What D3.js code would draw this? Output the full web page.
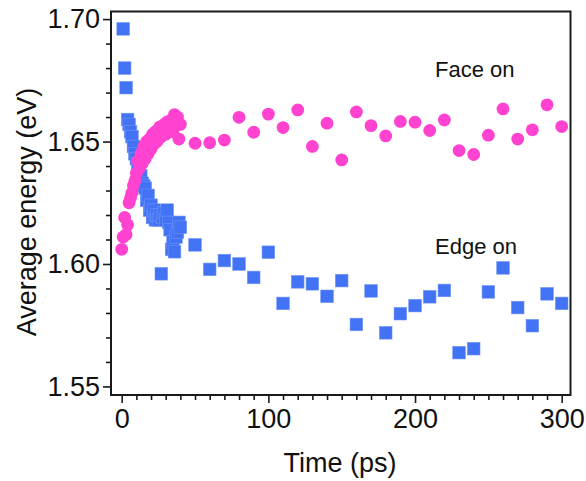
<!DOCTYPE html>
<html><head><meta charset="utf-8">
<script src="https://cdn.jsdelivr.net/npm/d3@7"></script>
<style>body{margin:0;background:#fff}svg{display:block;font-family:Arial,"Liberation Sans",sans-serif}</style>
</head><body><svg id="c" width="586" height="481"></svg>
<script>
// Edge on (blue squares): time (ps) and average energy (eV)
const edgeTime = [1,2,3,4,5,6,7,8,9,10,11,12,13,14,15,16,17,18,19,20,21,22,23,24,25,26,27,28,29,30,31,32,33,34,35,36,37,38,39,40,
  50,60,70,80,90,100,110,120,130,140,150,160,170,180,190,200,210,220,230,240,250,260,270,280,290,300];
const edgeEnergy = [1.696,1.680,1.672,1.659,1.657,1.654,1.652,1.648,1.645,1.643,1.641,1.637,1.636,1.633,1.632,1.631,1.626,1.628,1.622,1.624,
  1.619,1.622,1.618,1.620,1.618,1.620,1.596,1.619,1.621,1.618,1.622,1.617,1.614,1.606,1.609,1.605,1.611,1.613,1.617,1.615,
  1.6078,1.5978,1.6014,1.6000,1.5945,1.6048,1.5839,1.5927,1.5919,1.5868,1.5932,1.5753,1.5890,1.5719,1.5797,1.5830,1.5866,1.5892,1.5638,1.5654,
  1.5886,1.5984,1.5822,1.5748,1.5878,1.5839];
// Face on (magenta circles)
const faceTime = [0,1,2,3,4,5,6,7,8,9,10,11,12,13,14,15,16,17,18,19,20,21,22,23,24,25,26,27,28,29,30,31,32,33,34,35,36,37,38,39,40,
  50,60,70,80,90,100,110,120,130,140,150,160,170,180,190,200,210,220,230,240,250,260,270,280,290,300];
const faceEnergy = [1.606,1.611,1.619,1.612,1.616,1.625,1.627,1.629,1.632,1.634,1.637,1.642,1.639,1.645,1.641,1.648,1.643,1.650,1.645,1.651,
  1.647,1.653,1.649,1.654,1.650,1.655,1.656,1.652,1.654,1.657,1.653,1.658,1.655,1.657,1.659,1.654,1.661,1.658,1.660,1.651,1.657,
  1.6493,1.6495,1.6506,1.6599,1.6538,1.6612,1.6557,1.6629,1.6480,1.6575,1.6425,1.6621,1.6565,1.6523,1.6582,1.6579,1.6545,1.6588,1.6463,1.6447,
  1.6526,1.6633,1.6510,1.6548,1.6650,1.6561];
const xTicks = [0,100,200,300];
const yTicks = [1.55,1.60,1.65,1.70];
const labels = {x:"Time (ps)", y:"Average energy (eV)", face:"Face on", edge:"Edge on"};

const svg = d3.select("#c");
const L=111, R=570.5, T=11.5, B=395;
const x = d3.scaleLinear().domain([-7.3,306]).range([L,R]);
const y = d3.scaleLinear().domain([1.5465,1.7031]).range([B,T]);

const blue="#4173f4", pink="#ff43d0";
const gE = svg.append("g");
edgeTime.forEach((t,i)=>{
  gE.append("rect").attr("x",x(t)-6.3).attr("y",y(edgeEnergy[i])-6.3).attr("width",12.6).attr("height",12.6)
    .attr("fill",blue).attr("stroke","#6f93f7").attr("stroke-width",0.6);
});
const gF = svg.append("g");
faceTime.forEach((t,i)=>{
  gF.append("circle").attr("cx",x(t)).attr("cy",y(faceEnergy[i])).attr("r",6.4).attr("fill",pink);
});

// frame
svg.append("rect").attr("x",L).attr("y",T).attr("width",R-L).attr("height",B-T)
  .attr("fill","none").attr("stroke","#1a1a1a").attr("stroke-width",2);

// axes
const xAxis = d3.axisBottom(x).tickValues(xTicks).tickFormat(d3.format("d")).tickSize(8).tickPadding(6);
svg.append("g").attr("transform",`translate(0,${B})`).call(xAxis);
const xMinor = d3.axisBottom(x).tickValues(d3.range(0,301,10).filter(v=>v%100)).tickFormat("").tickSize(5);
svg.append("g").attr("transform",`translate(0,${B})`).call(xMinor);
const yAxis = d3.axisLeft(y).tickValues(yTicks).tickFormat(d3.format(".2f")).tickSize(8).tickPadding(3);
svg.append("g").attr("transform",`translate(${L},0)`).call(yAxis);
const yMinor = d3.axisLeft(y).tickValues(d3.range(1.55,1.70,0.01).map(v=>+v.toFixed(2)).filter(v=>Math.round(v*100)%5)).tickFormat("").tickSize(5);
svg.append("g").attr("transform",`translate(${L},0)`).call(yMinor);
svg.selectAll(".domain").remove();
svg.selectAll(".tick line").attr("stroke","#1a1a1a").attr("stroke-width",1.6);
svg.selectAll(".tick text").attr("fill","#111").style("font-size","27px");

svg.append("text").attr("x",340).attr("y",472).attr("text-anchor","middle").style("font-size","27px").attr("fill","#111").text(labels.x);
svg.append("text").attr("transform","translate(36,212) rotate(-90)").attr("text-anchor","middle").style("font-size","27px").attr("fill","#111").text(labels.y);
svg.append("text").attr("x",435).attr("y",77).style("font-size","22px").attr("fill","#111").text(labels.face);
svg.append("text").attr("x",435).attr("y",254).style("font-size","22px").attr("fill","#111").text(labels.edge);
</script></body></html>
